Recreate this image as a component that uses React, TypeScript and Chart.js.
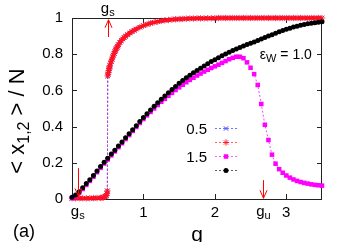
import React, { useEffect, useRef } from "react";
import { Chart, registerables } from "chart.js";
import { drawPoint } from "chart.js/helpers";

Chart.register(...registerables);

const FONT = '"Liberation Sans", Arial, Helvetica, sans-serif';

// g grid for the 1.5 and 1.0 series
const gGrid = [
  0, 0.05, 0.1, 0.15, 0.2, 0.25, 0.3, 0.35, 0.4, 0.45,
  0.5, 0.55, 0.6, 0.65, 0.7, 0.75, 0.8, 0.85, 0.9, 0.95,
  1.0, 1.05, 1.1, 1.15, 1.2, 1.25, 1.3, 1.35, 1.4, 1.45,
  1.5, 1.55, 1.6, 1.65, 1.7, 1.75, 1.8, 1.85, 1.9, 1.95,
  2.0, 2.05, 2.1, 2.15, 2.2, 2.25, 2.3, 2.35, 2.4, 2.45,
  2.5, 2.55, 2.6, 2.65, 2.7, 2.75, 2.8, 2.85, 2.9, 2.95,
  3.0, 3.05, 3.1, 3.15, 3.2, 3.25, 3.3, 3.35, 3.4, 3.45,
  3.5,
];

// eps_w = 1.0 (black circles)
const blackFrac = [
  0.010, 0.022, 0.040, 0.062, 0.085, 0.107, 0.130, 0.155, 0.180, 0.203,
  0.225, 0.248, 0.270, 0.293, 0.315, 0.338, 0.360, 0.383, 0.405, 0.428,
  0.450, 0.471, 0.492, 0.512, 0.532, 0.551, 0.569, 0.587, 0.605, 0.622,
  0.639, 0.655, 0.670, 0.684, 0.697, 0.710, 0.723, 0.735, 0.747, 0.759,
  0.770, 0.781, 0.791, 0.801, 0.811, 0.820, 0.829, 0.837, 0.845, 0.853,
  0.861, 0.868, 0.876, 0.884, 0.892, 0.900, 0.908, 0.916, 0.924, 0.931,
  0.938, 0.944, 0.950, 0.955, 0.960, 0.964, 0.968, 0.971, 0.974, 0.977,
  0.979,
];

// eps_w = 1.5 (magenta squares)
const magentaFrac = [
  0.005, 0.015, 0.033, 0.055, 0.078, 0.100, 0.123, 0.148, 0.172, 0.196,
  0.218, 0.241, 0.263, 0.286, 0.308, 0.331, 0.353, 0.376, 0.398, 0.420,
  0.442, 0.462, 0.481, 0.500, 0.519, 0.537, 0.553, 0.570, 0.586, 0.602,
  0.617, 0.631, 0.645, 0.658, 0.670, 0.682, 0.693, 0.704, 0.714, 0.724,
  0.733, 0.742, 0.752, 0.762, 0.772, 0.780, 0.786, 0.786, 0.778, 0.755,
  0.725, 0.690, 0.630, 0.525, 0.410, 0.326, 0.245, 0.195, 0.165, 0.145,
  0.130, 0.118, 0.108, 0.100, 0.094, 0.089, 0.085, 0.081, 0.078, 0.076,
  0.074,
];

// eps_w = 0.5 / red series: [g, fraction]
const redSeries: [number, number][] = [
  [0, 0.004], [0.05, 0.004], [0.1, 0.004], [0.15, 0.004], [0.2, 0.004],
  [0.25, 0.004], [0.3, 0.005], [0.35, 0.005], [0.4, 0.006], [0.42, 0.007],
  [0.44, 0.009], [0.46, 0.012], [0.47, 0.015], [0.48, 0.02], [0.49, 0.03],
  [0.495, 0.045],
  [0.5, 0.68], [0.505, 0.69], [0.51, 0.7], [0.515, 0.71], [0.52, 0.72],
  [0.525, 0.728], [0.53, 0.735], [0.54, 0.75], [0.55, 0.762], [0.56, 0.773],
  [0.57, 0.784], [0.58, 0.795], [0.59, 0.805], [0.6, 0.814], [0.61, 0.822],
  [0.62, 0.83], [0.63, 0.838], [0.64, 0.845], [0.65, 0.852], [0.67, 0.865],
  [0.69, 0.875], [0.71, 0.884], [0.73, 0.892], [0.75, 0.899], [0.78, 0.908],
  [0.81, 0.917], [0.84, 0.925], [0.87, 0.932], [0.9, 0.939], [0.95, 0.949],
  [1.0, 0.958], [1.05, 0.965], [1.1, 0.971], [1.15, 0.976], [1.2, 0.98],
  [1.25, 0.984], [1.3, 0.987], [1.35, 0.989], [1.4, 0.991], [1.45, 0.993],
  [1.5, 0.994], [1.55, 0.995], [1.6, 0.996], [1.65, 0.997], [1.7, 0.997],
  [1.75, 0.998], [1.8, 0.998], [1.85, 0.998], [1.9, 0.999], [1.95, 0.999],
  [2.0, 0.999], [2.05, 1.0], [2.1, 1.0], [2.15, 1.0], [2.2, 1.0],
  [2.25, 1.0], [2.3, 1.0], [2.35, 1.0], [2.4, 1.0], [2.45, 1.0],
  [2.5, 1.0], [2.55, 1.0], [2.6, 1.0], [2.65, 1.0], [2.7, 1.0],
  [2.75, 1.0], [2.8, 1.0], [2.85, 1.0], [2.9, 1.0], [2.95, 1.0],
  [3.0, 1.0], [3.05, 1.0], [3.1, 1.0], [3.15, 1.0], [3.2, 1.0],
  [3.25, 1.0], [3.3, 1.0], [3.35, 1.0], [3.4, 1.0], [3.45, 1.0],
  [3.5, 1.0],
];
// blue series (0.5 crosses) coincides with the red one
const blueSeries: [number, number][] = redSeries;

const legendLabels = ["0.5", "", "1.5", ""];
const xTickValues = [1, 2, 3];
const yTickValues = [0.2, 0.4, 0.6, 0.8];

// arrows: g position, start fraction, end fraction
const arrowMarks = [
  { g: 0.08, from: 0.17, to: 0.014 },
  { g: 0.5, from: 0.895, to: 0.99 },
  { g: 2.68, from: 0.104, to: 0.004 },
];
const gLabels = [
  { g: 0.08, base: "g", sub: "s", where: "bottom" },
  { g: 2.68, base: "g", sub: "u", where: "bottom" },
  { g: 0.5, base: "g", sub: "s", where: "top" },
];

function drawSub(
  ctx: CanvasRenderingContext2D,
  base: string,
  sub: string,
  x: number,
  y: number,
  size: number,
  subSize: number,
  subDrop: number,
  align: "center" | "left"
) {
  ctx.font = `${size}px ${FONT}`;
  const wb = ctx.measureText(base).width;
  ctx.font = `${subSize}px ${FONT}`;
  const ws = ctx.measureText(sub).width;
  const start = align === "center" ? x - (wb + ws) / 2 : x;
  ctx.textAlign = "left";
  ctx.textBaseline = "alphabetic";
  ctx.font = `${size}px ${FONT}`;
  ctx.fillText(base, start, y);
  ctx.font = `${subSize}px ${FONT}`;
  ctx.fillText(sub, start + wb, y + subDrop);
  return start + wb + ws;
}

const decorPlugin = {
  id: "decor",
  beforeDatasetsDraw(chart: any) {
    const { ctx, chartArea: a, scales } = chart;
    const xs = scales.x;
    const ys = scales.y;
    ctx.save();
    ctx.strokeStyle = "#222";
    ctx.lineWidth = 1;
    ctx.beginPath();
    for (const v of xTickValues) {
      const px = Math.round(xs.getPixelForValue(v)) + 0.5;
      ctx.moveTo(px, a.bottom);
      ctx.lineTo(px, a.bottom - 5);
      ctx.moveTo(px, a.top);
      ctx.lineTo(px, a.top + 5);
    }
    for (const v of yTickValues) {
      const py = Math.round(ys.getPixelForValue(v)) + 0.5;
      ctx.moveTo(a.left, py);
      ctx.lineTo(a.left + 5, py);
      ctx.moveTo(a.right, py);
      ctx.lineTo(a.right - 5, py);
    }
    ctx.stroke();
    ctx.strokeRect(a.left + 0.5, a.top + 0.5, a.right - a.left - 1, a.bottom - a.top);
    ctx.restore();
  },
  afterDatasetsDraw(chart: any) {
    const { ctx, chartArea: a, scales } = chart;
    const xs = scales.x;
    const ys = scales.y;
    ctx.save();
    // arrows
    ctx.strokeStyle = "#ff0000";
    ctx.lineWidth = 1;
    for (const m of arrowMarks) {
      const px = Math.round(xs.getPixelForValue(m.g)) + 0.5;
      const y0 = ys.getPixelForValue(m.from);
      const y1 = ys.getPixelForValue(m.to);
      const dir = y1 > y0 ? 1 : -1;
      ctx.beginPath();
      ctx.moveTo(px, y0);
      ctx.lineTo(px, y1);
      ctx.moveTo(px - 3.5, y1 - dir * 8);
      ctx.lineTo(px, y1);
      ctx.lineTo(px + 3.5, y1 - dir * 8);
      ctx.stroke();
    }
    // g labels
    ctx.fillStyle = "#000";
    for (const l of gLabels) {
      const px = xs.getPixelForValue(l.g);
      const py = l.where === "bottom" ? a.bottom + 17 : a.top - 5;
      drawSub(ctx, l.base, l.sub, px, py, 15, 11, 3, "center");
    }
    // eps label
    const ex = xs.getPixelForValue(2.63);
    const ey = ys.getPixelForValue(0.775);
    const end = drawSub(ctx, "\u03B5", "W", ex, ey, 14, 11, 3, "left");
    ctx.font = `14px ${FONT}`;
    ctx.fillText(" = 1.0", end, ey);

    // legend
    const dsList = chart.data.datasets;
    const rowY0 = a.top + 110.5;
    const textRight = a.left + 135;
    const lineL = a.left + 143;
    const lineR = a.left + 165;
    dsList.forEach((ds: any, i: number) => {
      const y = rowY0 + i * 14;
      ctx.fillStyle = "#000";
      ctx.font = `15px ${FONT}`;
      ctx.textAlign = "right";
      ctx.textBaseline = "middle";
      if (legendLabels[i]) ctx.fillText(legendLabels[i], textRight, y + 1);
      ctx.save();
      ctx.strokeStyle = ds.legendLineColor;
      ctx.lineWidth = 1;
      ctx.setLineDash([2, 2]);
      ctx.beginPath();
      ctx.moveTo(lineL, y);
      ctx.lineTo(lineR, y);
      ctx.stroke();
      ctx.restore();
      ctx.save();
      ctx.fillStyle = ds.pointBackgroundColor;
      ctx.strokeStyle = ds.pointBorderColor;
      ctx.lineWidth = ds.pointBorderWidth;
      drawPoint(ctx, {
        pointStyle: ds.pointStyle,
        rotation: 0,
        radius: ds.pointRadius,
        borderWidth: ds.pointBorderWidth,
      } as any, (lineL + lineR) / 2, y);
      ctx.restore();
    });

    // axis titles
    ctx.fillStyle = "#000";
    ctx.font = `21px ${FONT}`;
    ctx.textAlign = "center";
    ctx.textBaseline = "alphabetic";
    ctx.fillText("g", (a.left + a.right) / 2, 241);
    ctx.font = `18px ${FONT}`;
    ctx.textAlign = "left";
    ctx.fillText("(a)", 13, 237);

    // y title rotated
    ctx.save();
    ctx.translate(23.5, 121);
    ctx.rotate(-Math.PI / 2);
    const big = 22;
    const small = 16;
    ctx.font = `${big}px ${FONT}`;
    const p1 = "< x";
    const p3 = " > / N";
    const w1 = ctx.measureText(p1).width;
    const w3 = ctx.measureText(p3).width;
    ctx.font = `${small}px ${FONT}`;
    const w2 = ctx.measureText("1,2").width;
    let sx = -(w1 + w2 + w3) / 2;
    ctx.textAlign = "left";
    ctx.font = `${big}px ${FONT}`;
    ctx.fillText(p1, sx, 0);
    sx += w1;
    ctx.font = `${small}px ${FONT}`;
    ctx.fillText("1,2", sx, 5);
    sx += w2;
    ctx.font = `${big}px ${FONT}`;
    ctx.fillText(p3, sx, 0);
    ctx.restore();

    ctx.restore();
  },
};

export default function App() {
  const ref = useRef<HTMLCanvasElement | null>(null);
  useEffect(() => {
    if (!ref.current) return;
    const toPts = (xs: number[], ys: number[]) => xs.map((x, i) => ({ x, y: ys[i] }));
    const pairPts = (p: [number, number][]) => p.map(([x, y]) => ({ x, y }));
    const isJump = (c: any) => Math.abs(c.p1.parsed.y - c.p0.parsed.y) > 0.3;
    const chart = new Chart(ref.current, {
      type: "scatter",
      data: {
        datasets: [
          {
            label: legendLabels[0],
            data: pairPts(blueSeries),
            showLine: true,
            borderColor: "#3030ff",
            legendLineColor: "#7070ff",
            borderWidth: 1,
            borderDash: [2, 2],
            pointStyle: "crossRot",
            pointRadius: 3,
            pointBorderColor: "#3030ff",
            pointBackgroundColor: "#3030ff",
            pointBorderWidth: 1,
            order: 4,
            clip: false as any,
          } as any,
          {
            label: legendLabels[1],
            data: pairPts(redSeries),
            showLine: true,
            borderColor: "#ff0000",
            legendLineColor: "#ff6060",
            borderWidth: 1,
            borderDash: [2, 2],
            segment: {
              borderWidth: (c: any) => (isJump(c) ? 1 : 3.5),
              borderDash: (c: any) => (isJump(c) ? [2, 2] : []),
              borderColor: (c: any) => (isJump(c) ? "#c040c0" : "#ff0000"),
            },
            pointStyle: "star",
            pointRadius: 3.2,
            pointBorderColor: "rgba(255,20,40,0.85)",
            pointBackgroundColor: "#ff0000",
            pointBorderWidth: 1,
            order: 3,
            clip: false as any,
          } as any,
          {
            label: legendLabels[2],
            data: toPts(gGrid, magentaFrac),
            showLine: true,
            borderColor: "#ff40ff",
            legendLineColor: "#ff60ff",
            borderWidth: 1,
            borderDash: [2, 2],
            pointStyle: "rect",
            pointRadius: 3.2,
            pointBorderColor: "#ff00ff",
            pointBackgroundColor: "#ff00ff",
            pointBorderWidth: 0,
            order: 2,
            clip: false as any,
          } as any,
          {
            label: legendLabels[3],
            data: toPts(gGrid, blackFrac),
            showLine: true,
            borderColor: "#000000",
            legendLineColor: "#606060",
            borderWidth: 1,
            borderDash: [2, 2],
            pointStyle: "circle",
            pointRadius: 2.5,
            pointBorderColor: "#000000",
            pointBackgroundColor: "#000000",
            pointBorderWidth: 0,
            order: 1,
            clip: false as any,
          } as any,
        ],
      },
      options: {
        animation: false,
        responsive: false,
        devicePixelRatio: 1,
        layout: { padding: { top: 16, right: 24, left: 0, bottom: 0 } },
        plugins: { legend: { display: false }, tooltip: { enabled: false } },
        scales: {
          x: {
            type: "linear",
            min: 0,
            max: 3.5,
            grid: { display: false, drawTicks: false },
            border: { display: false },
            ticks: {
              stepSize: 1,
              includeBounds: false,
              autoSkip: false,
              maxRotation: 0,
              padding: 5,
              color: "#000",
              font: { size: 15, family: FONT },
              callback: (v: any) => (Number(v) === 0 ? "" : String(v)),
            },
            afterFit: (s: any) => {
              s.height = 43;
            },
          },
          y: {
            type: "linear",
            min: 0,
            max: 1,
            grid: { display: false, drawTicks: false },
            border: { display: false },
            ticks: {
              stepSize: 0.2,
              padding: 9,
              color: "#000",
              font: { size: 15, family: FONT },
              callback: (v: any) => String(Number(Number(v).toFixed(1))),
            },
            afterFit: (s: any) => {
              s.width = 72;
            },
          },
        },
      },
      plugins: [decorPlugin],
    });
    return () => chart.destroy();
  }, []);
  return (
    <div style={{ position: "absolute", left: 0, top: 0, width: 346, height: 242, background: "#fff" }}>
      <canvas ref={ref} width={346} height={242} style={{ width: 346, height: 242, display: "block" }} />
    </div>
  );
}
